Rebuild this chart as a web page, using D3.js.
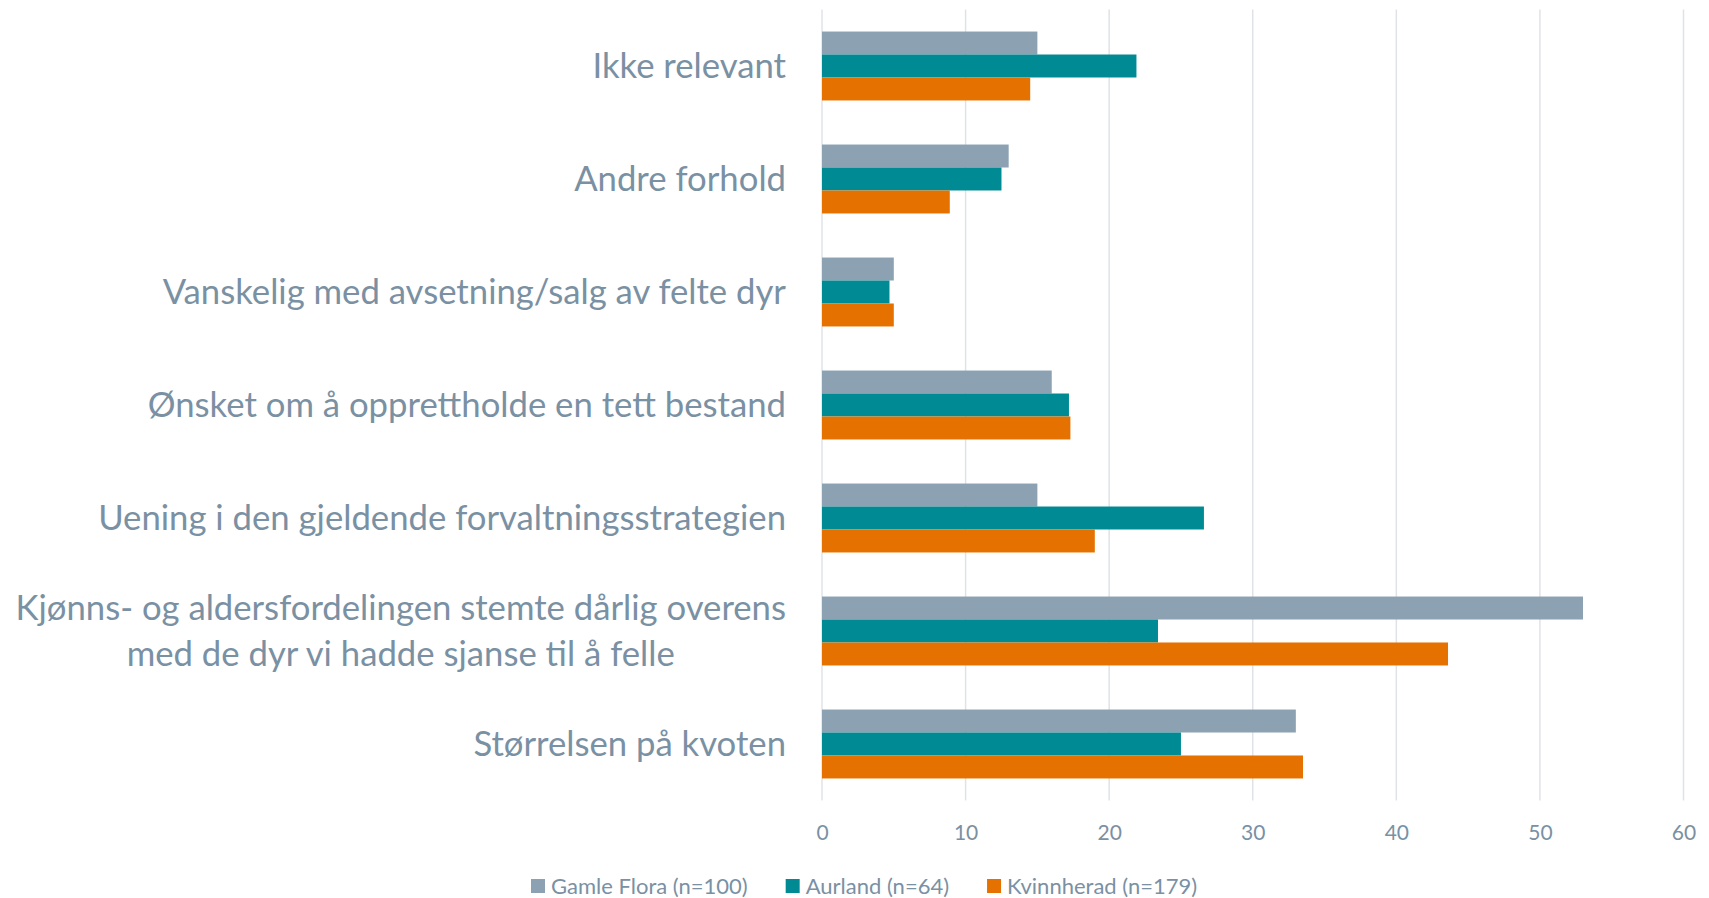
<!DOCTYPE html>
<html>
<head>
<meta charset="utf-8">
<script src="https://cdn.jsdelivr.net/npm/d3@7"></script>
<style>
  body { margin: 0; background: #fff; }
  svg { display: block; font-family: "Lato", "Open Sans", sans-serif; }
</style>
</head>
<body>
<div id="chart"></div>
<script>
// categories from top to bottom, multi-line labels split by \n
var categories = [
  "Ikke relevant",
  "Andre forhold",
  "Vanskelig med avsetning/salg av felte dyr",
  "Ønsket om å opprettholde en tett bestand",
  "Uening i den gjeldende forvaltningsstrategien",
  "Kjønns- og aldersfordelingen stemte dårlig overens\nmed de dyr vi hadde sjanse til å felle",
  "Størrelsen på kvoten"
];
var seriesNames = ["Gamle Flora (n=100)", "Aurland (n=64)", "Kvinnherad (n=179)"];
var gamleFlora = [15, 13, 5, 16, 15, 53, 33];
var aurland = [21.9, 12.5, 4.7, 17.2, 26.6, 23.4, 25];
var kvinnherad = [14.5, 8.9, 5, 17.3, 19, 43.6, 33.5];
var xTicks = [0, 10, 20, 30, 40, 50, 60];
var colors = ["#8ca1b2", "#008b94", "#e57200"];

var W = 1709, H = 898;
var svg = d3.select("#chart").append("svg")
    .attr("width", W)
    .attr("height", H);

var x = d3.scaleLinear().domain([0, 60]).range([822, 1683.5]);
var y = d3.scaleBand().domain(categories).range([9.5, 800.5]).paddingInner(0.39).paddingOuter(0.195);
var ySub = d3.scaleBand().domain([0, 1, 2]).range([0, y.bandwidth()]);

var textColor = "#7a90a3";

// gridlines
svg.append("g").attr("class", "grid")
  .selectAll("line")
  .data(xTicks)
  .enter().append("line")
  .attr("x1", function(d) { return x(d); })
  .attr("x2", function(d) { return x(d); })
  .attr("y1", 9.5)
  .attr("y2", 800.5)
  .attr("stroke", "#dfe3e8")
  .attr("stroke-width", 1.5);

// x axis labels
var xAxis = svg.append("g")
  .attr("class", "xAxis")
  .attr("transform", "translate(0,825)")
  .call(d3.axisBottom(x).tickValues(xTicks).tickSize(0).tickPadding(0));
xAxis.select(".domain").remove();
xAxis.selectAll("text")
  .attr("fill", textColor)
  .attr("font-size", 21)
  .attr("font-family", "Lato, sans-serif")
  .attr("dy", "0.71em");

// bars
var seriesData = [gamleFlora, aurland, kvinnherad];
seriesData.forEach(function(vals, s) {
  svg.append("g").attr("class", "series" + s)
    .selectAll("rect")
    .data(vals)
    .enter().append("rect")
    .attr("x", x(0))
    .attr("y", function(d, i) { return y(categories[i]) + ySub(s); })
    .attr("height", ySub.bandwidth())
    .attr("width", function(d) { return x(d) - x(0); })
    .attr("fill", colors[s]);
});

// category labels (right aligned block, lines centered within block)
var labelRight = 786;
var lineH = 46;
categories.forEach(function(c) {
  var lines = c.split("\n");
  var g = svg.append("g").attr("class", "ylabel");
  var cy = y(c) + y.bandwidth() / 2;
  var texts = lines.map(function(l, k) {
    return g.append("text")
      .text(l)
      .attr("fill", textColor)
      .attr("font-size", 34.7)
      .attr("y", cy + (k - (lines.length - 1) / 2) * lineH)
      .attr("dy", "0.35em");
  });
  var maxW = d3.max(texts, function(t) { return t.node().getComputedTextLength(); });
  texts.forEach(function(t) {
    t.attr("text-anchor", "middle").attr("x", labelRight - maxW / 2);
  });
});

// legend
var legend = svg.append("g").attr("class", "legend").attr("transform", "translate(531,886)");
var lx = 0;
seriesNames.forEach(function(n, s) {
  legend.append("rect")
    .attr("x", lx).attr("y", -7)
    .attr("width", 14).attr("height", 14)
    .attr("fill", colors[s]);
  var t = legend.append("text")
    .attr("x", lx + 20).attr("y", 0).attr("dy", "0.35em")
    .attr("fill", textColor)
    .attr("font-size", 22)
    .text(n);
  lx += 20 + t.node().getComputedTextLength() + 38;
});
</script>
</body>
</html>
